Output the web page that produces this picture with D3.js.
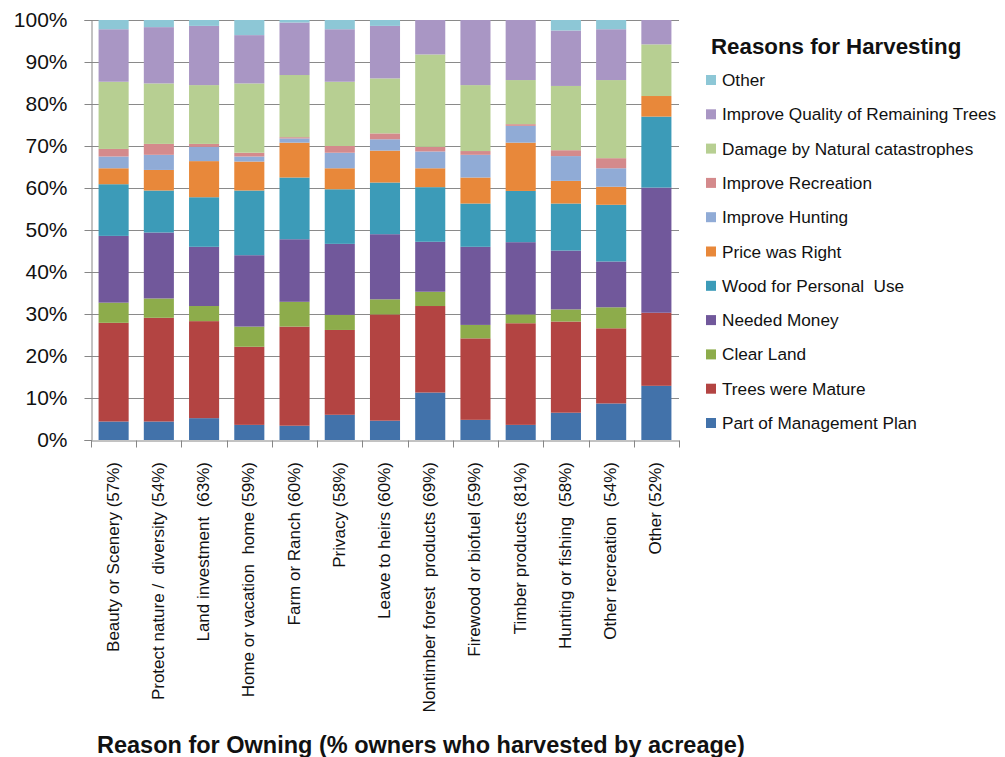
<!DOCTYPE html>
<html>
<head>
<meta charset="utf-8">
<script src="https://cdn.jsdelivr.net/npm/d3@7"></script>
<style>
body { margin: 0; background: #fff; }
svg text { font-family: "Liberation Sans", Arial, sans-serif; fill: #111; }
</style>
</head>
<body>
<div id="chart"></div>
<script>
const categories = ["Beauty or Scenery (57%)", "Protect nature /  diversity (54%)", "Land investment  (63%)",
	"Home or vacation  home (59%)", "Farm or Ranch (60%)", "Privacy (58%)", "Leave to heirs (60%)",
	"Nontimber forest  products (69%)", "Firewood or biofuel (59%)", "Timber products (81%)",
	"Hunting or fishing  (58%)", "Other recreation  (54%)", "Other (52%)"];

const series = ["Part of Management Plan", "Trees were Mature", "Clear Land", "Needed Money",
	"Wood for Personal  Use", "Price was Right", "Improve Hunting", "Improve Recreation",
	"Damage by Natural catastrophes", "Improve Quality of Remaining Trees", "Other"];

const colors = ["#4272aa", "#b34442", "#8dac4b", "#71589b", "#3c9bb8", "#e8883a",
	"#90abd6", "#d48a8c", "#b7cf92", "#a996c4", "#8dc7d6"];

// percent of each bar, one array per series (bottom to top)
const mgmtPlan   = [4.4, 4.4, 5.2, 3.6, 3.4, 6.0, 4.6, 11.3, 4.8, 3.6, 6.5, 8.7, 12.9];
const mature     = [23.5, 24.7, 23.1, 18.6, 23.6, 20.2, 25.3, 20.6, 19.4, 24.2, 21.7, 17.9, 17.4];
const clearLand  = [4.8, 4.6, 3.6, 4.8, 5.9, 3.6, 3.6, 3.4, 3.2, 2.1, 2.9, 5.0, 0];
const money      = [15.9, 15.7, 14.1, 17.0, 14.9, 16.9, 15.5, 11.9, 18.6, 17.2, 14.0, 10.9, 29.8];
const woodUse    = [12.3, 10.0, 11.8, 15.4, 14.7, 13.0, 12.3, 13.0, 10.3, 12.2, 11.2, 13.5, 16.9];
const price      = [3.8, 4.9, 8.6, 6.9, 8.3, 5.0, 7.6, 4.5, 6.2, 11.5, 5.4, 4.3, 4.9];
const hunting    = [2.8, 3.6, 3.4, 1.2, 1.0, 3.7, 2.7, 4.0, 5.4, 4.0, 5.9, 4.4, 0];
const recreation = [1.8, 2.6, 0.7, 0.9, 0.3, 1.6, 1.4, 1.1, 0.9, 0.4, 1.4, 2.4, 0];
const damage     = [16.0, 14.4, 14.0, 16.5, 14.8, 15.3, 13.1, 22.0, 15.7, 10.5, 15.3, 18.6, 12.3];
const quality    = [12.5, 13.4, 14.1, 11.5, 12.5, 12.5, 12.5, 8.2, 15.5, 14.3, 13.2, 12.1, 5.8];
const other      = [2.2, 1.7, 1.4, 3.6, 0.6, 2.2, 1.4, 0, 0, 0, 2.5, 2.2, 0];

const seriesValues = [mgmtPlan, mature, clearLand, money, woodUse, price, hunting, recreation, damage, quality, other];
const yTicks = [0, 10, 20, 30, 40, 50, 60, 70, 80, 90, 100];

const width = 1005, height = 757;
const margin = {left: 91, top: 20, right: 326, bottom: 317};

const rows = categories.map((c, i) => {
	let r = {cat: c};
	series.forEach((s, j) => r[s] = seriesValues[j][i]);
	return r;
});

const stack = d3.stack().keys(series)(rows);

const svg = d3.select('#chart').append('svg')
.attr('width', width)
.attr('height', height);

const x = d3.scaleBand()
.domain(categories)
.range([margin.left, width - margin.right])
.paddingInner(0.335)
.paddingOuter(0.1675);

const y = d3.scaleLinear()
.domain([0, 100])
.range([height - margin.bottom, margin.top]);

// grid
svg.append('g')
.selectAll('line')
.data(yTicks.slice(1))
.enter()
.append('line')
.attr('x1', margin.left)
.attr('x2', width - margin.right)
.attr('y1', d => y(d) + 0.5)
.attr('y2', d => y(d) + 0.5)
.attr('stroke', '#8a8a8a')
.attr('stroke-width', 1);

// bars
svg.append('g')
.selectAll('g')
.data(stack)
.enter()
.append('g')
.attr('fill', (d, i) => colors[i])
.selectAll('rect')
.data(d => d)
.enter()
.append('rect')
.attr('x', d => x(d.data.cat))
.attr('width', x.bandwidth())
.attr('y', d => y(d[1]))
.attr('height', d => y(d[0]) - y(d[1]));

// y axis
const yAxis = svg.append('g')
.attr('transform', 'translate(' + (margin.left + 0.5) + ',0)')
.call(d3.axisLeft(y).tickValues(yTicks).tickFormat(d => d + '%').tickSize(7).tickPadding(17));

yAxis.selectAll('text').style('font-size', '21px').attr('fill', '#111');

// x axis
const xAxis = svg.append('g')
.attr('transform', 'translate(0,' + (height - margin.bottom + 0.5) + ')')
.call(d3.axisBottom(x).tickSize(0).tickFormat(''));

// category boundary ticks
xAxis.selectAll('.bound')
.data(d3.range(categories.length + 1))
.enter()
.append('line')
.attr('class', 'bound')
.attr('x1', i => Math.round(margin.left + i * x.step()) + 0.5)
.attr('x2', i => Math.round(margin.left + i * x.step()) + 0.5)
.attr('y1', 0)
.attr('y2', 7);

svg.selectAll('.domain, .tick line, .bound').attr('stroke', '#868686');

// x labels
svg.append('g')
.selectAll('text')
.data(categories)
.enter()
.append('text')
.attr('transform', d => 'translate(' + (x(d) + x.bandwidth() / 2 + 5) + ',' + 462 + ') rotate(-90)')
.attr('text-anchor', 'end')
.style('font-size', '17px')
.style('white-space', 'pre')
.text(d => d);

// axis title
svg.append('text')
.attr('x', 97)
.attr('y', 753)
.style('font-size', '23.5px')
.style('font-weight', 'bold')
.text('Reason for Owning (% owners who harvested by acreage)');

// legend
const legend = svg.append('g');

legend.append('text')
.attr('x', 711)
.attr('y', 54)
.style('font-size', '22.3px')
.style('font-weight', 'bold')
.text('Reasons for Harvesting');

const items = legend.selectAll('.item')
.data(series.slice().reverse())
.enter()
.append('g')
.attr('class', 'item')
.attr('transform', (d, i) => 'translate(706,' + (80 + i * 34.3) + ')');

items.append('rect')
.attr('x', 0)
.attr('y', -5)
.attr('width', 10)
.attr('height', 10)
.attr('fill', d => colors[series.indexOf(d)]);

items.append('text')
.attr('x', 16)
.attr('y', 6)
.style('font-size', '17.2px')
.style('white-space', 'pre')
.text(d => d);
</script>
</body>
</html>
